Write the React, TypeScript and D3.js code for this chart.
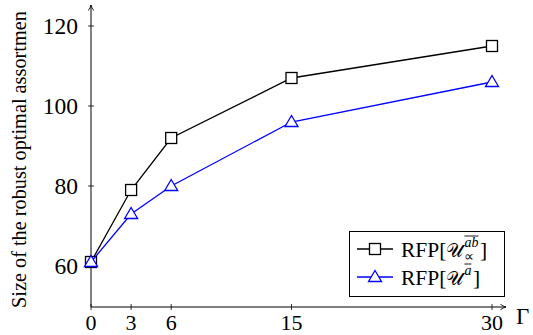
import { useEffect, useRef } from 'react';
import * as d3 from 'd3';

const gammas = [0, 3, 6, 15, 30];
const rfpProp = [61, 79, 92, 107, 115];
const rfpA = [61, 73, 80, 96, 106];
const yTicks = [60, 80, 100, 120];
const yLabel = 'Size of the robust optimal assortmen';

const W = 533;
const H = 335;
const FONT = '"Liberation Serif", "Times New Roman", serif';

export default function App() {
  const svgRef = useRef<SVGSVGElement>(null);

  useEffect(() => {
    if (!svgRef.current) return;
    const svg = d3.select(svgRef.current);
    svg.selectAll('*').remove();
    svg.attr('font-family', FONT);

    const x = d3.scaleLinear().domain([0, 30]).range([91, 492]);
    const y = d3.scaleLinear().domain([60, 120]).range([266, 26]);
    const x0 = x(0);
    const yBottom = 307;

    // arrow marker
    const defs = svg.append('defs');
    defs.append('marker')
      .attr('id', 'arr')
      .attr('viewBox', '0 0 10 10')
      .attr('refX', 9)
      .attr('refY', 5)
      .attr('markerWidth', 7)
      .attr('markerHeight', 7)
      .attr('markerUnits', 'userSpaceOnUse')
      .attr('orient', 'auto')
      .append('path')
      .attr('d', 'M1,1 Q5,4 9,5 Q5,6 1,9')
      .attr('fill', 'none')
      .attr('stroke', '#000')
      .attr('stroke-width', 1.2);

    // axes
    svg.append('line')
      .attr('x1', x0).attr('x2', x0)
      .attr('y1', yBottom).attr('y2', 5)
      .attr('stroke', '#000').attr('stroke-width', 1)
      .attr('marker-end', 'url(#arr)');
    svg.append('line')
      .attr('x1', x0).attr('x2', 506)
      .attr('y1', yBottom).attr('y2', yBottom)
      .attr('stroke', '#000').attr('stroke-width', 1)
      .attr('marker-end', 'url(#arr)');

    // y ticks
    svg.selectAll('.ytick')
      .data(yTicks)
      .enter()
      .append('line')
      .attr('x1', x0 - 3).attr('x2', x0 + 3)
      .attr('y1', d => y(d)).attr('y2', d => y(d))
      .attr('stroke', '#000').attr('stroke-width', 0.8);
    svg.selectAll('.ylab')
      .data(yTicks)
      .enter()
      .append('text')
      .attr('x', 78)
      .attr('y', d => y(d) + 7.5)
      .attr('text-anchor', 'end')
      .attr('font-size', 23.5)
      .text(d => d);

    // x ticks
    svg.selectAll('.xtick')
      .data(gammas)
      .enter()
      .append('line')
      .attr('x1', d => x(d)).attr('x2', d => x(d))
      .attr('y1', yBottom - 3).attr('y2', yBottom + 3)
      .attr('stroke', '#000').attr('stroke-width', 0.8);
    svg.selectAll('.xlab')
      .data(gammas)
      .enter()
      .append('text')
      .attr('x', d => x(d))
      .attr('y', 329.5)
      .attr('text-anchor', 'middle')
      .attr('font-size', 22)
      .text(d => d);

    svg.append('text')
      .attr('x', 516).attr('y', 324)
      .attr('font-size', 23)
      .text('Γ');

    svg.append('text')
      .attr('transform', 'translate(26,308) rotate(-90)')
      .attr('text-anchor', 'start')
      .attr('font-size', 20.3)
      .text(yLabel);

    const line = d3.line<[number, number]>()
      .x(d => x(d[0]))
      .y(d => y(d[1]));

    const square = (g: d3.Selection<SVGGElement, unknown, null, undefined>, cx: number, cy: number, color: string) => {
      g.append('rect')
        .attr('x', cx - 5.5).attr('y', cy - 5.5)
        .attr('width', 11).attr('height', 11)
        .attr('fill', '#fff')
        .attr('stroke', color).attr('stroke-width', 1.3);
    };
    const triangle = (g: d3.Selection<SVGGElement, unknown, null, undefined>, cx: number, cy: number, color: string) => {
      g.append('path')
        .attr('d', `M${cx},${cy - 6.5} L${cx + 6.5},${cy + 4.5} L${cx - 6.5},${cy + 4.5} Z`)
        .attr('fill', '#fff')
        .attr('stroke', color).attr('stroke-width', 1.3);
    };

    const series = [
      { vals: rfpProp, color: '#000', mark: square },
      { vals: rfpA, color: '#0000ff', mark: triangle },
    ];

    series.forEach(s => {
      const g = svg.append('g');
      const pts = gammas.map((gm, i) => [gm, s.vals[i]] as [number, number]);
      g.append('path')
        .datum(pts)
        .attr('fill', 'none')
        .attr('stroke', s.color)
        .attr('stroke-width', 1.3)
        .attr('d', line);
      pts.forEach(p => s.mark(g, x(p[0]), y(p[1]), s.color));
    });

    // legend
    const lg = svg.append('g');
    lg.append('rect')
      .attr('x', 349.5).attr('y', 231.5)
      .attr('width', 155).attr('height', 65)
      .attr('fill', '#fff')
      .attr('stroke', '#000').attr('stroke-width', 1);

    const rows = [
      { color: '#000', mark: square, cy: 249, sup: 'ab', sub: '∝' },
      { color: '#0000ff', mark: triangle, cy: 277, sup: 'a', sub: '' },
    ];
    rows.forEach(r => {
      const g = lg.append('g');
      g.append('line')
        .attr('x1', 357).attr('x2', 393)
        .attr('y1', r.cy).attr('y2', r.cy)
        .attr('stroke', r.color).attr('stroke-width', 1.3);
      r.mark(g, 375, r.cy, r.color);

      const base = r.cy + 8;
      const t1 = g.append('text')
        .attr('x', 401).attr('y', base)
        .attr('font-size', 21.5)
        .text('RFP[');
      const w1 = (t1.node() as SVGTextElement).getComputedTextLength();
      const t2 = g.append('text')
        .attr('x', 401 + w1).attr('y', base)
        .attr('font-size', 19)
        .text('𝒰');
      const w2 = (t2.node() as SVGTextElement).getComputedTextLength();
      const sx = 401 + w1 + w2 + 1;
      const sp = g.append('text')
        .attr('x', sx).attr('y', base - 10)
        .attr('font-size', 14)
        .attr('font-style', 'italic')
        .text(r.sup);
      const ws = (sp.node() as SVGTextElement).getComputedTextLength();
      g.append('line')
        .attr('x1', sx).attr('x2', sx + ws)
        .attr('y1', base - 21).attr('y2', base - 21)
        .attr('stroke', '#000').attr('stroke-width', 0.9);
      let wsub = 0;
      if (r.sub) {
        const sb = g.append('text')
          .attr('x', sx).attr('y', base + 4)
          .attr('font-size', 14)
          .text(r.sub);
        wsub = (sb.node() as SVGTextElement).getComputedTextLength();
      }
      g.append('text')
        .attr('x', sx + Math.max(ws, wsub) + 1.5).attr('y', base)
        .attr('font-size', 21.5)
        .text(']');
    });
  }, []);

  return (
    <svg
      ref={svgRef}
      width={W}
      height={H}
      style={{ position: 'absolute', left: 0, top: 0, background: '#fff' }}
    />
  );
}
